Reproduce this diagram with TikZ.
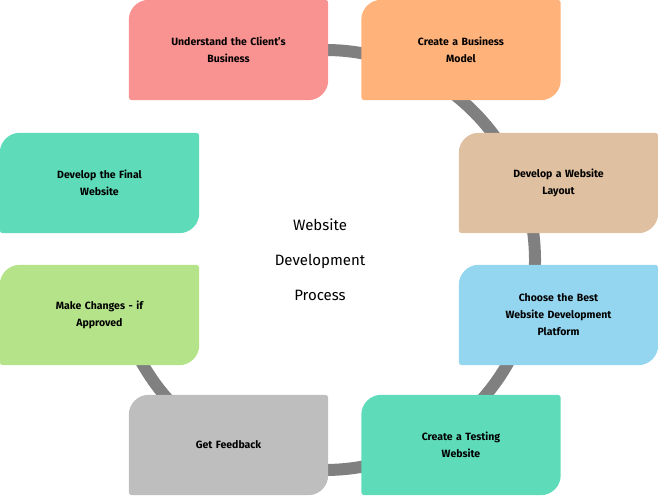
\documentclass[tikz,border=0pt]{standalone}
\usepackage{fontspec}
\setmainfont{Fira Sans}
\usetikzlibrary{calc,arrows.meta,backgrounds}
\definecolor{cpink}{HTML}{F99391}
\definecolor{corange}{HTML}{FFB27A}
\definecolor{ctan}{HTML}{DFC0A0}
\definecolor{cblue}{HTML}{94D6F0}
\definecolor{cteal}{HTML}{5EDBB9}
\definecolor{cgray}{HTML}{BEBEBE}
\definecolor{cgreen}{HTML}{B5E38A}
\newcommand\cardfill[2]{%
  \fill[#2] ($(#1.north west)+(20,0)$) -- ($(#1.north east)+(-3,0)$)
    arc[start angle=90,end angle=0,radius=3] -- ($(#1.south east)+(0,20)$)
    arc[start angle=0,end angle=-90,radius=20] -- ($(#1.south west)+(3,0)$)
    arc[start angle=270,end angle=180,radius=3] -- ($(#1.north west)+(0,-20)$)
    arc[start angle=180,end angle=90,radius=20] -- cycle;}
\begin{document}
\begin{tikzpicture}[x=1pt,y=1pt,
    card/.style={minimum width=199pt,minimum height=100pt,text width=170pt,
      align=center,font=\bfseries\fontsize{10.5}{17}\selectfont,inner sep=0pt}]
    \useasboundingbox (0,0) rectangle (658,495);

    % Steps
    \node[card] (client) at (228.5,445) {Understand the Client's\\Business};
    \node[card] (model) at (461,445) {Create a Business\\Model};
    \node[card] (layout) at (558.5,312) {Develop a Website\\Layout};
    \node[card] (platform) at (558.5,180) {Choose the Best\\Website Development\\Platform};
    \node[card] (testing) at (461,50) {Create a Testing\\Website};
    \node[card] (feedback) at (228.5,50) {Get Feedback};
    \node[card] (changes) at (99.5,180) {Make Changes - if\\Approved};
    \node[card] (final) at (99.5,312) {Develop the Final\\Website};

    % Title
    \node[align=center,font=\fontsize{15}{35}\selectfont] (title) at (320,235)
      {Website\\Development\\Process};

    \begin{pgfonlayer}{background}
      % Ring
      \coordinate (hub) at (325,235);
      \draw[line width=12pt,color=gray,-{Triangle[width=28pt,length=16pt]}]
        ($(hub)+(95:210)$) arc[start angle=95,end angle=-178,radius=210];
      \cardfill{client}{cpink}
      \cardfill{model}{corange}
      \cardfill{layout}{ctan}
      \cardfill{platform}{cblue}
      \cardfill{testing}{cteal}
      \cardfill{feedback}{cgray}
      \cardfill{changes}{cgreen}
      \cardfill{final}{cteal}
    \end{pgfonlayer}
\end{tikzpicture}
\end{document}
